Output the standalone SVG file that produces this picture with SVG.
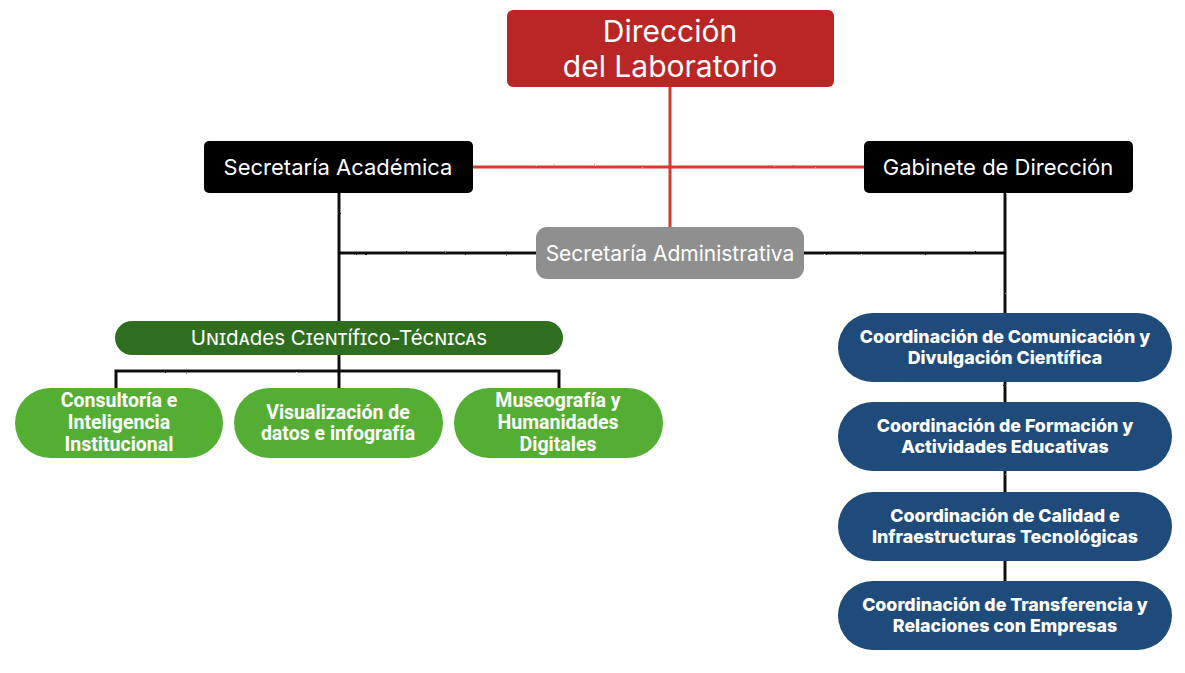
<svg xmlns="http://www.w3.org/2000/svg" width="1185" height="673" viewBox="0 0 1185 673">
<defs>
<filter id="rough" x="-5%" y="-5%" width="110%" height="110%">
<feTurbulence type="fractalNoise" baseFrequency="0.9" numOctaves="2" seed="3" result="n"/>
<feDisplacementMap in="SourceGraphic" in2="n" scale="1.6" xChannelSelector="R" yChannelSelector="G"/>
</filter>
<style>
.red{stroke:#D63A2C;stroke-width:3;fill:none}
.blk{stroke:#111;stroke-width:3;fill:none}
.t{font-family:Inter,"Noto Sans","Liberation Sans",sans-serif;fill:#fff;text-anchor:middle}
.b{font-family:Roboto,Inter,"Liberation Sans",sans-serif;font-weight:700;font-size:19.5px;fill:#fff;text-anchor:middle}
.bb{font-family:Inter,Roboto,"Liberation Sans",sans-serif;font-weight:800;font-size:17.8px;fill:#fff;text-anchor:middle}
.green{fill:#55AE34}
.blue{fill:#1F4B7B}
</style>
</defs>
<rect width="1185" height="673" fill="#fff"/>
<g id="connectors" filter="url(#rough)">
<line class="red" x1="670" y1="87" x2="670" y2="227"/>
<line class="red" x1="473" y1="167" x2="864" y2="167"/>
<line class="blk" x1="339" y1="193" x2="339" y2="321"/>
<line class="blk" x1="339" y1="253" x2="1005" y2="253"/>
<line class="blk" x1="1005" y1="193" x2="1005" y2="313"/>
<line class="blk" x1="1005" y1="382" x2="1005" y2="402"/>
<line class="blk" x1="1005" y1="471" x2="1005" y2="492"/>
<line class="blk" x1="1005" y1="561" x2="1005" y2="581"/>
<line class="blk" x1="339" y1="354" x2="339" y2="388"/>
<polyline class="blk" points="116,388 116,371 559,371 559,388"/>
</g>
<g id="direccion">
<rect x="507" y="10" width="327" height="77" rx="6" fill="#BA2626"/>
<text class="t" font-size="30" x="670" y="42">Dirección</text>
<text class="t" font-size="30" x="670" y="77">del Laboratorio</text>
</g>
<g id="sec-academica">
<rect x="204" y="141" width="269" height="52" rx="5" fill="#000"/>
<text class="t" font-size="22" x="338" y="175">Secretaría Académica</text>
</g>
<g id="gabinete">
<rect x="864" y="141" width="269" height="52" rx="5" fill="#000"/>
<text class="t" font-size="22" x="998" y="175">Gabinete de Dirección</text>
</g>
<g id="sec-administrativa">
<rect x="536" y="227" width="268" height="52" rx="11" fill="#8F8F8F"/>
<text class="t" font-size="21" x="670" y="261">Secretaría Administrativa</text>
</g>
<g id="unidades">
<rect x="115" y="321" width="448" height="34" rx="17" fill="#2E6E1E"/>
<text class="t" font-size="20.5" x="339" y="344.5" font-variant="small-caps">Unidades Científico-Técnicas</text>
</g>
<g id="consultoria">
<rect class="green" x="15" y="388" width="208" height="70" rx="35"/>
<text class="b" x="119" y="407">Consultoría e</text>
<text class="b" x="119" y="429">Inteligencia</text>
<text class="b" x="119" y="451">Institucional</text>
</g>
<g id="visualizacion">
<rect class="green" x="234" y="388" width="209" height="70" rx="35"/>
<text class="b" x="338" y="419">Visualización de</text>
<text class="b" x="338" y="440">datos e infografía</text>
</g>
<g id="museografia">
<rect class="green" x="454" y="388" width="209" height="70" rx="35"/>
<text class="b" x="558" y="407">Museografía y</text>
<text class="b" x="558" y="429">Humanidades</text>
<text class="b" x="558" y="451">Digitales</text>
</g>
<g id="coord-comunicacion">
<rect class="blue" x="838" y="313" width="334" height="69" rx="34.5"/>
<text class="bb" x="1005" y="343">Coordinación de Comunicación y</text>
<text class="bb" x="1005" y="364">Divulgación Científica</text>
</g>
<g id="coord-formacion">
<rect class="blue" x="838" y="402" width="334" height="69" rx="34.5"/>
<text class="bb" x="1005" y="432">Coordinación de Formación y</text>
<text class="bb" x="1005" y="453">Actividades Educativas</text>
</g>
<g id="coord-calidad">
<rect class="blue" x="838" y="492" width="334" height="69" rx="34.5"/>
<text class="bb" x="1005" y="522">Coordinación de Calidad e</text>
<text class="bb" x="1005" y="543">Infraestructuras Tecnológicas</text>
</g>
<g id="coord-transferencia">
<rect class="blue" x="838" y="581" width="334" height="69" rx="34.5"/>
<text class="bb" x="1005" y="611">Coordinación de Transferencia y</text>
<text class="bb" x="1005" y="632">Relaciones con Empresas</text>
</g>
</svg>
